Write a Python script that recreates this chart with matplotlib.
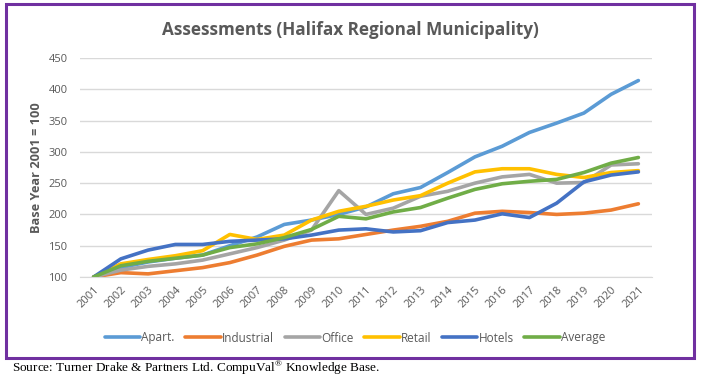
import numpy as np
from matplotlib import pyplot as plt
from matplotlib.patches import Rectangle

years = [str(y) for y in range(2001, 2022)]

apart = [100, 115, 124, 130, 135, 150, 164, 184, 191, 200, 212, 233, 243, 267, 292,
         309, 331, 346, 362, 392, 414]
industrial = [100, 107, 105, 110, 115, 123, 135, 149, 159, 161, 168, 175, 181, 189, 202,
              205, 203, 200, 202, 207, 217]
office = [100, 111, 117, 121, 127, 137, 147, 159, 175, 238, 200, 210, 229, 237, 250,
          260, 264, 250, 251, 279, 281]
retail = [100, 121, 128, 134, 142, 168, 160, 167, 191, 205, 213, 223, 230, 250, 268,
          273, 273, 264, 259, 267, 270]
hotels = [100, 129, 143, 152, 152, 157, 159, 161, 167, 175, 177, 172, 174, 187, 191,
          201, 195, 218, 252, 263, 268]
average = [100, 118, 125, 130, 135, 147, 153, 163, 176, 197, 193, 204, 211, 226, 240,
           249, 253, 256, 267, 282, 291]

series = [("Apart.", apart, "#5B9BD5"),
          ("Industrial", industrial, "#ED7D31"),
          ("Office", office, "#A5A5A5"),
          ("Retail", retail, "#FFC000"),
          ("Hotels", hotels, "#4472C4"),
          ("Average", average, "#70AD47")]

plt.rcParams['font.family'] = ['Open Sans', 'DejaVu Sans']
txt = "#595959"

fig = plt.figure(figsize=(7.06, 3.76), dpi=100)
# purple frame round the chart
fig.patches.append(Rectangle((6 / 706, 1 - 358 / 376), 688 / 706, 354 / 376,
                             transform=fig.transFigure, fill=False,
                             edgecolor="#7030A0", linewidth=2.2))

ax = fig.add_axes([80 / 706, 99 / 376, 572 / 706, 219 / 376])
x = np.arange(len(years))
for name, vals, col in series:
    ax.plot(x, vals, color=col, linewidth=2.6, label=name, solid_capstyle='round')

ax.set_xlim(-0.5, len(years) - 0.5)
ax.set_ylim(100, 450)
ax.set_yticks(range(100, 451, 50))
ax.set_xticks(x)
ax.set_xticklabels(years, rotation=45, ha='right', rotation_mode='anchor')
ax.tick_params(axis='both', length=0, labelsize=8, labelcolor=txt)
ax.tick_params(axis='x', pad=5)
ax.tick_params(axis='y', pad=9)
ax.grid(axis='y', color="#D9D9D9", linewidth=1)
ax.set_axisbelow(True)
for s in ['top', 'right', 'left']:
    ax.spines[s].set_visible(False)
ax.spines['bottom'].set_color("#D9D9D9")

ax.set_ylabel("Base Year 2001 = 100", fontsize=9.2, fontweight='bold', color=txt,
              labelpad=4)
fig.text(350 / 706, 1 - 30 / 376, "Assessments (Halifax Regional Municipality)",
         ha='center', va='center', fontsize=12.3, fontweight='bold', color=txt)

fig.legend(loc='center', bbox_to_anchor=(355 / 706, 1 - 338 / 376), ncol=6,
           frameon=False, fontsize=8.5, labelcolor=txt, handlelength=3,
           handletextpad=0.1, columnspacing=0.9)

fig.text(12 / 706, 1 - 368 / 376,
         "Source: Turner Drake & Partners Ltd. CompuVal$^{\\mathregular{®}}$ Knowledge Base.",
         ha='left', va='center', fontsize=9.5, family='Liberation Serif')

fig.savefig("out.png", dpi=100)
